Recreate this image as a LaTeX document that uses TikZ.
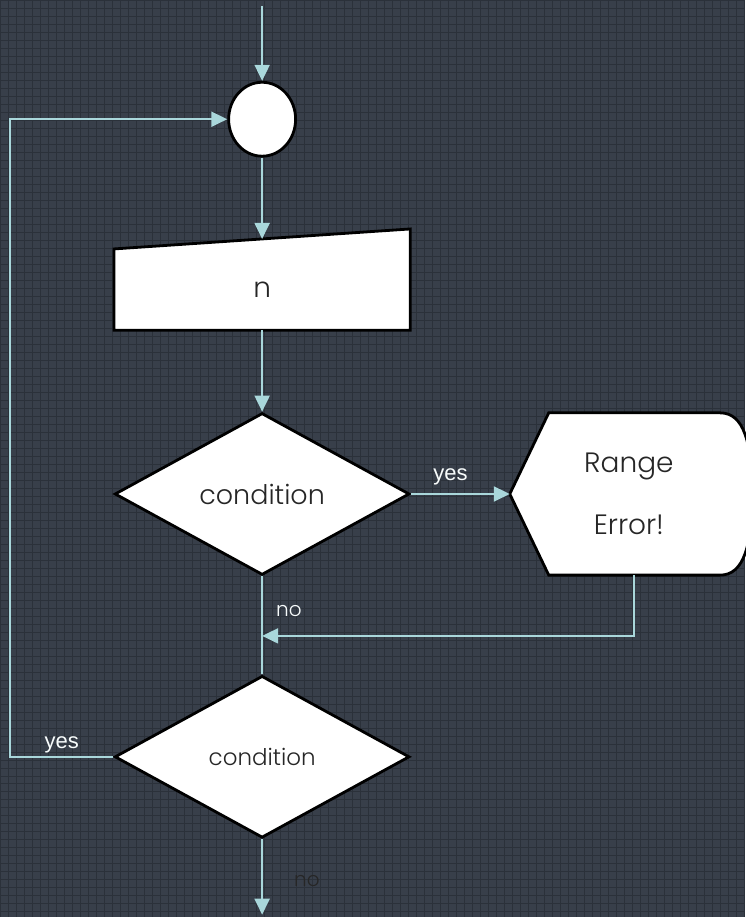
\documentclass[tikz,border=0pt]{standalone}
\usepackage{fontspec}
\setmainfont{Liberation Sans}
\newfontfamily\shapefont{Poppins Light}
\usetikzlibrary{arrows.meta,positioning,calc,shapes.geometric,backgrounds}
\definecolor{bgdark}{HTML}{383F4A}
\definecolor{gridline}{HTML}{2B313A}
\definecolor{flowline}{HTML}{A9D7DB}

\begin{document}
\begin{tikzpicture}[
    x=1pt, y=1pt,
    % white shapes with black border
    shapebox/.style={
        draw=black, line width=2.8pt, fill=white
    },
    shapetext/.style={
        font=\shapefont\fontsize{27}{32}\selectfont, text=black!85, align=center
    },
    decision/.style={
        shapebox, shapetext, diamond, inner sep=0pt,
        minimum width=295pt, minimum height=162pt
    },
    % connectors: light blue with filled tips
    flow/.style={
        -{Triangle[length=16pt,width=15pt]}, line width=2pt, flowline
    },
    flowplain/.style={
        line width=2pt, flowline
    },
    lbl/.style={
        font=\fontsize{22}{24}\selectfont, text=white!92!flowline, inner sep=1pt
    },
    lblhand/.style={
        font=\shapefont\fontsize{20}{22}\selectfont, text=white!92!flowline, inner sep=1pt
    }
]

% === Background ===
\begin{scope}[on background layer]
\fill[bgdark] (0,-917) rectangle (745,0);
\draw[gridline, line width=0.6pt] (0,-917) grid[step=8] (745,0);
\end{scope}
\useasboundingbox (0,-917) rectangle (745,0);

% === Nodes ===
\coordinate (top) at (262,-6);
\node[shapebox, ellipse, minimum width=67pt, minimum height=74pt, inner sep=0pt] (start) at (262,-119) {};

\node[shapetext, font=\shapefont\fontsize{28}{32}\selectfont,
      minimum width=296pt, minimum height=81pt, inner sep=0pt] (inp) at (262,-289.5) {n};
\coordinate (inptop) at ($(inp.north)+(0,10)$);

\node[decision] (cond1) at (262,-494) {condition};

\node[shapetext, font=\shapefont\fontsize{28}{62}\selectfont,
      minimum width=238pt, minimum height=162pt, inner sep=0pt] (err) at (629,-494) {Range\\Error!};

\node[decision, font=\shapefont\fontsize{23}{28}\selectfont] (cond2) at (262,-757) {condition};

\coordinate (merge) at (262,-636);
\coordinate (loop) at (10,-757);
\coordinate (bottom) at (262,-915);

% === Outlines of the custom shapes ===
\begin{scope}[on background layer]
\draw[shapebox] (inp.south west) -- (inp.south east)
    -- ([yshift=20pt]inp.north east) -- (inp.north west) -- cycle;
\draw[shapebox] (err.west) -- ([xshift=39pt]err.north west)
    -- ([xshift=-28pt]err.north east)
    .. controls ([xshift=-4pt]err.north east) and ([xshift=4pt,yshift=-30pt]err.north east) .. ([xshift=4pt]err.east)
    .. controls ([xshift=4pt,yshift=30pt]err.south east) and ([xshift=-4pt]err.south east) .. ([xshift=-28pt]err.south east)
    -- ([xshift=39pt]err.south west) -- cycle;
\end{scope}

% === Connectors ===
\draw[flow] (top) -- (start.north);
\draw[flow] (start.south) -- (inptop);
\draw[flow] (inp.south) -- (cond1.north);

\draw[flow] (cond1.east) -- (err.west)
    node[lbl, pos=0.4, above=7pt] {yes};

\draw[flowplain] (cond1.south) -- (cond2.north)
    node[lblhand, pos=0.35, right=12pt] {no};

\draw[flow] ([xshift=5pt]err.south) |- (merge);

% loop back
\draw[flow] (cond2.west) -- (loop) |- (start.west);
\path (cond2.west) -- (loop)
    node[lbl, midway, above=3pt] {yes};

\draw[flow] (cond2.south) -- (bottom)
    node[lblhand, pos=0.55, right=30pt, text=black!85] {no};

\end{tikzpicture}
\end{document}
